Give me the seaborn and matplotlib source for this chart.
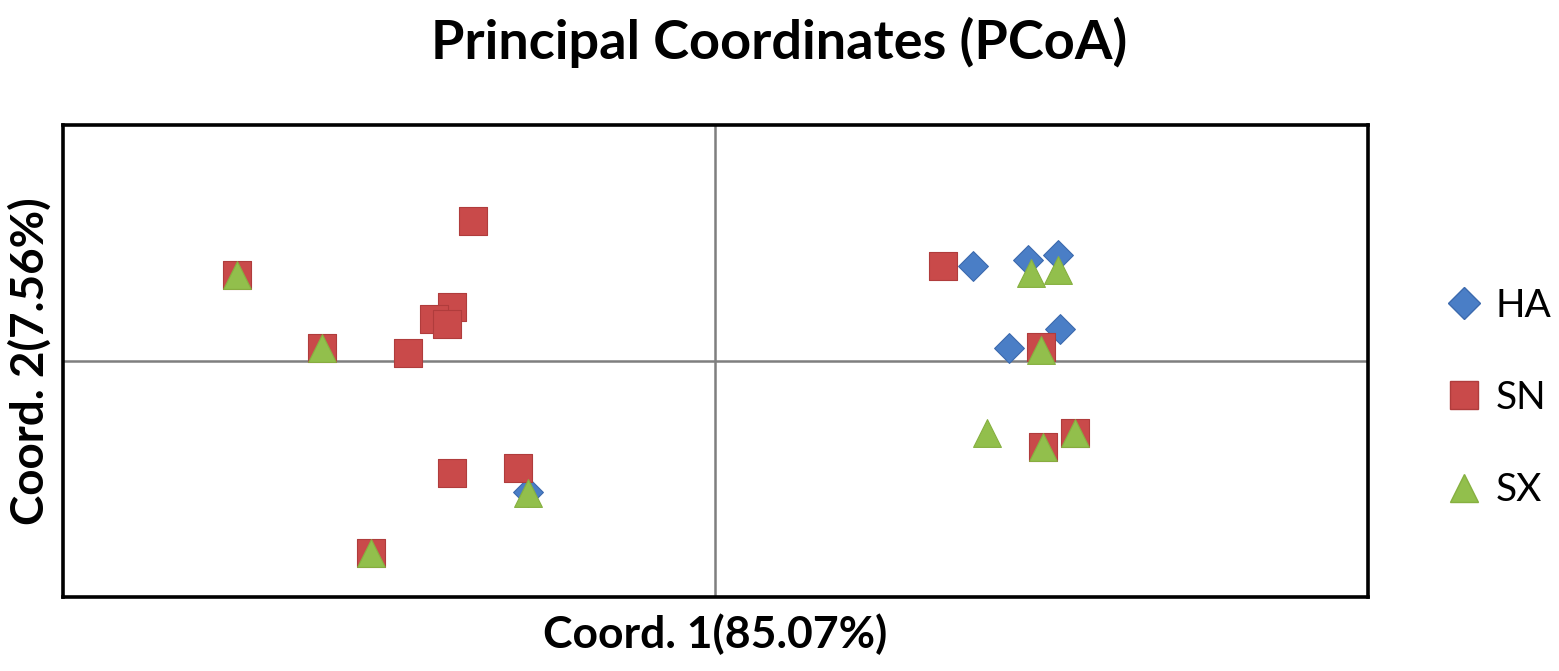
import matplotlib
matplotlib.use("Agg")
import matplotlib.pyplot as plt
import seaborn as sns
import pandas as pd
from matplotlib.lines import Line2D

# ---- data ----
groups = ["HA", "SN", "SX"]
ha_x = [-0.1439, 0.1971, 0.2395, 0.2625, 0.2640, 0.2249]
ha_y = [-0.1110, 0.0808, 0.0856, 0.0898, 0.0271, 0.0110]
sn_x = [-0.3669, -0.1858, -0.2019, -0.2157, -0.2057, -0.3015, -0.2356,
        -0.2021, -0.1516, -0.2640, 0.1746, 0.2494, 0.2510, 0.2755]
sn_y = [0.0729, 0.1186, 0.0458, 0.0356, 0.0314, 0.0110, 0.0068,
        -0.0952, -0.0909, -0.1627, 0.0808, 0.0119, -0.0729, -0.0610]
sx_x = [-0.3667, -0.3015, -0.1439, -0.2640, 0.2418, 0.2625, 0.2494,
        0.2080, 0.2510, 0.2755]
sx_y = [0.0729, 0.0110, -0.1119, -0.1627, 0.0746, 0.0771, 0.0093,
        -0.0610, -0.0729, -0.0610]

title = "Principal Coordinates (PCoA)"
xlabel = "Coord. 1(85.07%)"
ylabel = "Coord. 2(7.56%)"

colors = {"HA": "#4A7EC6", "SN": "#C94A4A", "SX": "#92BF4C"}
edges = {"HA": "#3C6AAE", "SN": "#B03C3C", "SX": "#86B040"}
markers = {"HA": "D", "SN": "s", "SX": "^"}
sizes = {"HA": 230, "SN": 400, "SX": 400}

df = pd.concat([
    pd.DataFrame({"x": ha_x, "y": ha_y, "g": "HA"}),
    pd.DataFrame({"x": sn_x, "y": sn_y, "g": "SN"}),
    pd.DataFrame({"x": sx_x, "y": sx_y, "g": "SX"}),
], ignore_index=True)

sns.set_theme(style="white")
plt.rcParams["font.family"] = ["Lato", "DejaVu Sans"]
plt.rcParams["text.color"] = "black"
plt.rcParams["axes.labelcolor"] = "black"

fig = plt.figure(figsize=(15.59, 6.71), dpi=100)
ax = fig.add_axes([63 / 1559, 1 - 597 / 671, (1368 - 63) / 1559, (597 - 125) / 671])

ax.axhline(0, color="#7F7F7F", lw=1.8, zorder=1)
ax.axvline(0, color="#7F7F7F", lw=1.8, zorder=1)

for g in groups:
    sub = df[df["g"] == g]
    sns.scatterplot(data=sub, x="x", y="y", ax=ax, marker=markers[g], s=sizes[g],
                    color=colors[g], edgecolor=edges[g], linewidth=0.8,
                    legend=False, zorder=3)

ax.set_xlim(-0.5, 0.5)
ax.set_ylim(-0.2, 0.2)
ax.set_xticks([])
ax.set_yticks([])
ax.set_xlabel(xlabel, fontsize=32, fontweight="bold", labelpad=12)
ax.set_ylabel(ylabel, fontsize=33, fontweight="bold", labelpad=8)
for sp in ax.spines.values():
    sp.set_visible(True)
    sp.set_color("black")
    sp.set_linewidth(2.6)

fig.suptitle(title, fontsize=39, fontweight="bold", y=1 - 42 / 671, va="center")

handles = [Line2D([0], [0], marker=markers[g], linestyle="none",
                  markerfacecolor=colors[g], markeredgecolor=edges[g],
                  markersize=(16 if g == "HA" else 20)) for g in groups]
fig.legend(handles, groups, loc="center left",
           bbox_to_anchor=(1410 / 1559, 1 - 398 / 671), frameon=False,
           fontsize=28, labelspacing=1.45, handletextpad=0.3, handlelength=1.0)

fig.savefig("out.png", dpi=100)
